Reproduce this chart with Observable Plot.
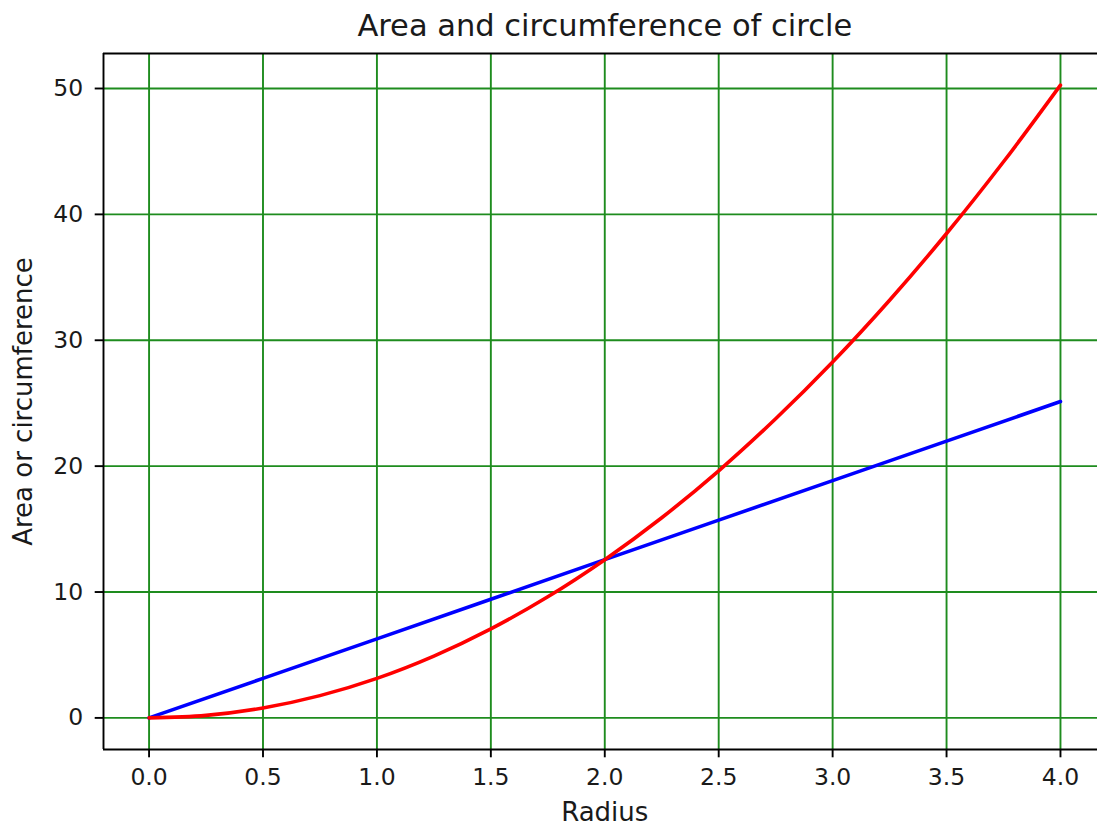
<!DOCTYPE html>
<html>
<head>
<meta charset="utf-8">
<script src="https://cdn.jsdelivr.net/npm/d3@7"></script>
<script src="https://cdn.jsdelivr.net/npm/@observablehq/plot@0.6"></script>
<style>
  html, body { margin: 0; padding: 0; background: #fff; }
  #chart svg { display: block; overflow: visible; }
</style>
</head>
<body>
<div id="chart"></div>
<script>
// Values
const titleText = "Area and circumference of circle";
const xLabel = "Radius";
const yLabel = "Area or circumference";

const areaRadius = [0, 0.25, 0.5, 0.75, 1.0, 1.25, 1.5, 1.75, 2.0, 2.25, 2.5, 2.75, 3.0, 3.25, 3.5, 3.75, 4.0];
const areaValues = [0, 0.2, 0.79, 1.77, 3.14, 4.91, 7.07, 9.62, 12.57, 15.9, 19.63, 23.76, 28.27, 33.18, 38.48, 44.18, 50.27];

const circRadius = [0, 0.5, 1.0, 1.5, 2.0, 2.5, 3.0, 3.5, 4.0];
const circValues = [0, 3.14, 6.28, 9.42, 12.57, 15.71, 18.85, 21.99, 25.13];

const xTicks = [0, 0.5, 1.0, 1.5, 2.0, 2.5, 3.0, 3.5, 4.0];
const yTicks = [0, 10, 20, 30, 40, 50];

const xDomain = [-0.2, 4.1625];
const yDomain = [-2.51, 52.78];

const areaData = areaRadius.map((r, i) => ({r, v: areaValues[i]}));
const circData = circRadius.map((r, i) => ({r, v: circValues[i]}));

const gridColor = "#1e8c1e";
const textColor = "#1a1a1a";
const fontFamily = "'DejaVu Sans', sans-serif";

const chart = Plot.plot({
  width: 1097,
  height: 825,
  marginLeft: 103,
  marginRight: 0,
  marginTop: 53,
  marginBottom: 76,
  style: {fontFamily, fontSize: "23.5px", color: textColor, background: "#fff", overflow: "visible"},
  x: {domain: xDomain, ticks: xTicks},
  y: {domain: yDomain, ticks: yTicks},
  marks: [
    Plot.gridX(xTicks, {stroke: gridColor, strokeOpacity: 1, strokeWidth: 1.9}),
    Plot.gridY(yTicks, {stroke: gridColor, strokeOpacity: 1, strokeWidth: 1.9}),
    Plot.line(circData, {x: "r", y: "v", stroke: "#0000ff", strokeWidth: 3.6}),
    Plot.line(areaData, {x: "r", y: "v", stroke: "#ff0000", strokeWidth: 3.6, curve: "catmull-rom"}),
    Plot.ruleX([xDomain[0]], {stroke: "#000", strokeWidth: 1.9}),
    Plot.ruleY([yDomain[0], yDomain[1]], {stroke: "#000", strokeWidth: 1.9}),
    Plot.axisX(xTicks, {
      tickSize: 8.3, tickPadding: 11, tickFormat: d3.format(".1f"),
      fontSize: 23.5, stroke: "#000", strokeWidth: 1.9, fill: textColor, label: null
    }),
    Plot.axisY(yTicks, {
      tickSize: 8.3, tickPadding: 12, tickFormat: d3.format("d"),
      fontSize: 23.5, stroke: "#000", strokeWidth: 1.9, fill: textColor, label: null
    }),
    Plot.text([titleText], {
      x: () => 2.0, text: d => d, frameAnchor: "top", dy: -27,
      lineAnchor: "middle", textAnchor: "middle", fontSize: 30.5, fill: textColor
    }),
    Plot.text([xLabel], {
      x: () => 2.0, text: d => d, frameAnchor: "bottom", dy: 63,
      lineAnchor: "middle", textAnchor: "middle", fontSize: 26, fill: textColor
    }),
    Plot.text([yLabel], {
      text: d => d, frameAnchor: "left", dx: -80, rotate: -90,
      lineAnchor: "middle", textAnchor: "middle", fontSize: 26, fill: textColor
    })
  ]
});
document.getElementById("chart").appendChild(chart);
</script>
</body>
</html>
